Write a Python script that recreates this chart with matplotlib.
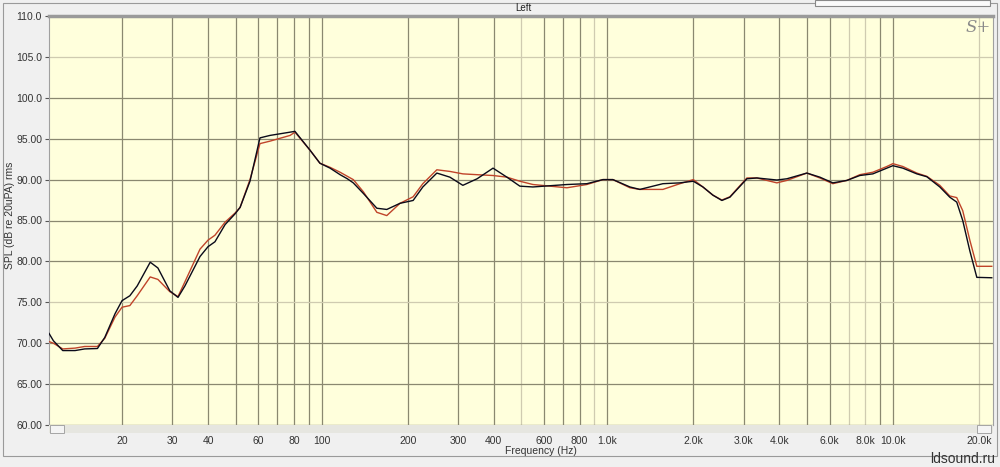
import numpy as np
import matplotlib.pyplot as plt
from matplotlib.patches import Rectangle

plt.rcParams['font.family'] = ['Liberation Sans', 'DejaVu Sans']

# Frequency grid (Hz) shared by both measurements
freq = [11.1, 11.5, 12.4, 13.7, 14.8, 16.4, 17.4, 18.9, 20, 21.3, 22.6, 25.1, 26.7,
        29.4, 31.4, 33.2, 37.5, 40, 42.3, 45.9, 49.7, 51.8, 56.1, 60.8, 65.9, 77.5,
        80.6, 91, 98.6, 107, 116, 123, 129, 140, 156, 169, 188, 209, 226, 253, 281,
        312, 350, 398, 445, 494, 549, 722, 848, 965, 1046, 1200, 1300, 1565, 1795,
        2000, 2161, 2342, 2518, 2686, 3081, 3339, 3922, 4251, 4995, 5546, 6159, 6895,
        7656, 8502, 9518, 9991, 10830, 12120, 13140, 14590, 15810, 16720, 17550,
        18580, 19660, 22180]

# SPL (dB) - black trace
spl_black = [71.2, 70.3, 69.1, 69.1, 69.3, 69.35, 70.7, 73.6, 75.2, 75.8, 77.0, 79.9, 79.2,
             76.4, 75.6, 77.0, 80.6, 81.8, 82.4, 84.5, 85.8, 86.6, 89.8, 95.1, 95.4, 95.8,
             95.9, 93.6, 92.0, 91.4, 90.6, 90.1, 89.6, 88.3, 86.5, 86.35, 87.1, 87.45, 89.1,
             90.8, 90.3, 89.3, 90.1, 91.4, 90.3, 89.2, 89.1, 89.4, 89.5, 90.0, 90.0, 89.1,
             88.8, 89.5, 89.6, 89.8, 89.1, 88.1, 87.45, 87.85, 90.1, 90.2, 89.95, 90.1,
             90.8, 90.3, 89.6, 89.9, 90.5, 90.7, 91.4, 91.7, 91.4, 90.7, 90.35, 89.1,
             87.85, 87.25, 85.0, 81.3, 78.05, 78.0]

# SPL (dB) - red trace
spl_red = [70.2, 70.0, 69.3, 69.4, 69.6, 69.6, 70.6, 73.2, 74.4, 74.6, 75.8, 78.1, 77.8,
           76.3, 75.7, 77.5, 81.5, 82.6, 83.2, 84.8, 85.9, 86.6, 90.0, 94.4, 94.7, 95.4,
           95.8, 93.6, 92.0, 91.5, 90.9, 90.4, 90.0, 88.5, 86.0, 85.6, 87.1, 87.9, 89.5,
           91.2, 91.0, 90.7, 90.6, 90.5, 90.3, 89.8, 89.4, 89.0, 89.4, 90.0, 90.0, 89.0,
           88.8, 88.8, 89.5, 90.0, 89.1, 88.1, 87.5, 87.9, 90.2, 90.2, 89.6, 89.9,
           90.8, 90.2, 89.5, 89.9, 90.6, 90.9, 91.6, 91.95, 91.6, 90.8, 90.4, 89.3,
           88.0, 87.8, 86.2, 82.6, 79.4, 79.4]

xticks = [20, 30, 40, 50, 60, 70, 80, 90, 100, 200, 300, 400, 500, 600, 700, 800, 900,
          1000, 2000, 3000, 4000, 5000, 6000, 7000, 8000, 9000, 10000, 20000]
xlabels = ['20', '30', '40', '', '60', '', '80', '', '100', '200', '300', '400', '', '600',
           '', '800', '', '1.0k', '2.0k', '3.0k', '4.0k', '', '6.0k', '', '8.0k', '',
           '10.0k', '20.0k']
yticks = [60, 65, 70, 75, 80, 85, 90, 95, 100, 105, 110]
ylabels = ['60.00', '65.00', '70.00', '75.00', '80.00', '85.00', '90.00', '95.00',
           '100.0', '105.0', '110.0']
light_x = [500, 900, 7000, 8000, 20000]
light_y = [75, 105]

fig = plt.figure(figsize=(10, 4.67), dpi=100, facecolor='#f0f0f0')
ax = fig.add_axes([0.049, 1 - 425 / 467, 0.944, (425 - 16) / 467])
ax.set_facecolor('#ffffdc')

ax.set_xscale('log')
ax.set_xlim(11.1, 22400)
ax.set_ylim(60, 110)

ax.set_xticks(xticks)
ax.set_xticklabels(xlabels)
ax.xaxis.set_minor_locator(plt.NullLocator())
ax.set_yticks(yticks)
ax.set_yticklabels(ylabels)
ax.tick_params(axis='x', length=0, pad=8, labelsize=7.5, labelcolor='#333333')
ax.tick_params(axis='y', length=3, width=0.8, color='#555555', pad=2,
               labelsize=7.5, labelcolor='#333333')

ax.grid(True, color='#8a8870', linewidth=0.9)
for gl, f in zip(ax.get_xgridlines(), xticks):
    if f in light_x:
        gl.set_color('#cfcbb0')
for gl, v in zip(ax.get_ygridlines(), yticks):
    if v in light_y:
        gl.set_color('#cfcbb0')

ax.plot(freq, spl_red, color='#c0442a', linewidth=1.0, zorder=3)
ax.plot(freq, spl_black, color='#0a0a1a', linewidth=1.0, zorder=4)

for s in ['left', 'right', 'bottom']:
    ax.spines[s].set_color('#a0a0a0')
    ax.spines[s].set_linewidth(0.8)
ax.spines['top'].set_color('#9a9a9a')
ax.spines['top'].set_linewidth(2.5)

fig.text(0.541, 1 - 451 / 467, 'Frequency (Hz)', fontsize=7.5, color='#333333',
         ha='center', va='center')
fig.text(0.010, 1 - 215 / 467, 'SPL (dB re 20uPA) rms', fontsize=7.5, color='#333333',
         rotation=90, ha='center', va='center')

# scrollbar strip under the plot
fig.patches.append(Rectangle((0.049, 1 - 433 / 467), 0.944, 8 / 467,
                             transform=fig.transFigure, facecolor='#e6e6e0',
                             edgecolor='none'))
fig.patches.append(Rectangle((0.050, 1 - 433 / 467), 0.014, 8 / 467,
                             transform=fig.transFigure, facecolor='#f4f4f4',
                             edgecolor='#999999', linewidth=0.6))
fig.patches.append(Rectangle((0.977, 1 - 433 / 467), 0.014, 8 / 467,
                             transform=fig.transFigure, facecolor='#f4f4f4',
                             edgecolor='#999999', linewidth=0.6))

# window frame and title tab
fig.patches.append(Rectangle((0.003, 1 - 456 / 467), 0.994, 453 / 467,
                             transform=fig.transFigure, facecolor='none',
                             edgecolor='#9a9a9a', linewidth=0.8))
fig.patches.append(Rectangle((0.815, 1 - 6 / 467), 0.175, 6 / 467,
                             transform=fig.transFigure, facecolor='#fafafa',
                             edgecolor='#888888', linewidth=0.8))
fig.text(0.523, 1 - 8 / 467, 'Left', fontsize=7, color='#222222',
         ha='center', va='center')

fig.text(0.978, 1 - 27 / 467, 'S+', fontsize=12, color='#8a8a8a', style='italic',
         family='DejaVu Serif', ha='center', va='center')
fig.text(0.995, 1 - 459 / 467, 'ldsound.ru', fontsize=10, color='#333333',
         ha='right', va='center')

fig.savefig('out.png', dpi=100, facecolor=fig.get_facecolor())
